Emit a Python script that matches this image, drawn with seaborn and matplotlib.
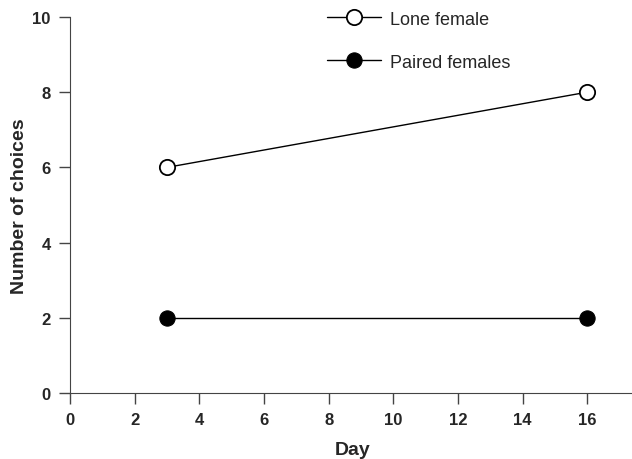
import pandas as pd
import matplotlib.pyplot as plt
import seaborn as sns

sns.set_style("ticks")
plt.rcParams["font.family"] = ["Liberation Sans", "DejaVu Sans"]

# data
days = [3, 16]
lone_female = [6, 8]
paired_females = [2, 2]

df = pd.DataFrame({
    "Day": days * 2,
    "choices": lone_female + paired_females,
    "group": ["Lone female"] * 2 + ["Paired females"] * 2,
})

fig = plt.figure(figsize=(6.32, 4.6), dpi=100)
ax = fig.add_axes([0.111, 0.1435, 0.895, 0.8175])

sns.lineplot(data=df[df.group == "Lone female"], x="Day", y="choices", ax=ax,
             color="black", lw=1, marker="o", markersize=11,
             markerfacecolor="white", markeredgecolor="black", markeredgewidth=1.3,
             label="Lone female")
sns.lineplot(data=df[df.group == "Paired females"], x="Day", y="choices", ax=ax,
             color="black", lw=1, marker="o", markersize=11,
             markerfacecolor="black", markeredgecolor="black",
             label="Paired females")

ax.set_xlim(0, 17.5)
ax.set_ylim(0, 10)
ax.set_xticks(range(0, 17, 2))
ax.set_yticks(range(0, 11, 2))
sns.despine(ax=ax)
ax.spines["left"].set_color("#444444")
ax.spines["bottom"].set_color("#444444")
ax.tick_params(direction="out", length=8, width=1, color="#444444", labelsize=12, pad=6)
for lab in ax.get_xticklabels() + ax.get_yticklabels():
    lab.set_fontweight("bold")
ax.set_xlabel("Day", fontsize=14, fontweight="bold", labelpad=10)
ax.set_ylabel("Number of choices", fontsize=14, fontweight="bold", labelpad=3)

ax.legend(loc="upper left", bbox_to_anchor=(0.425, 1.06), frameon=False,
          fontsize=13, handlelength=3.0, labelspacing=1.45, handletextpad=0.5)

fig.savefig("out.png", dpi=100)
